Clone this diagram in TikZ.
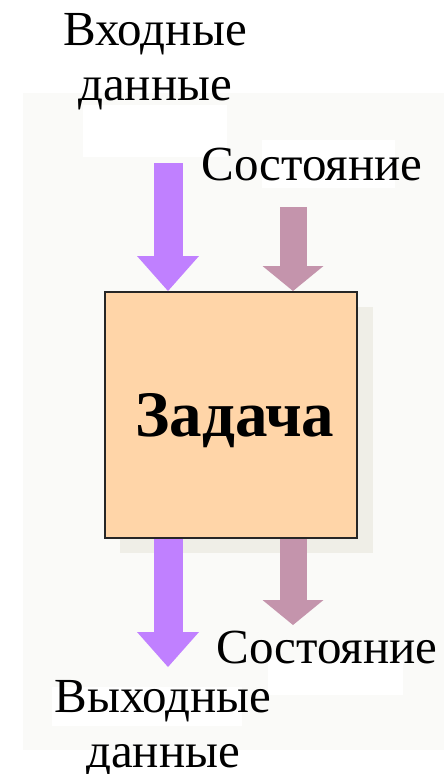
\documentclass[tikz,border=0pt]{standalone}
\usepackage{fontspec}
\setmainfont{Liberation Serif}
\usetikzlibrary{arrows.meta}
\definecolor{panel}{HTML}{FAFAF8}
\definecolor{shadowcol}{HTML}{EFEEE7}
\definecolor{taskfill}{HTML}{FFD5A8}
\definecolor{datacol}{HTML}{C080FF}
\definecolor{statecol}{HTML}{C494AC}

\begin{document}
\begin{tikzpicture}[x=0.75pt,y=-0.75pt,
    lbl/.style={font=\fontsize{36.75}{41.25}\selectfont,align=center,inner sep=0pt,anchor=base},
    data/.style={datacol,line width=21.75pt,-{Triangle[width=46.5pt,length=26.25pt,line width=0pt]}},
    state/.style={statecol,line width=20.25pt,-{Triangle[width=45.75pt,length=18.75pt,line width=0pt]}}]
                \useasboundingbox (0,0) rectangle (444,774);
                \fill[panel] (23,93) rectangle (444,750);
                \fill[white] (83,105) rectangle (227,157);
                \fill[white] (262,140) rectangle (395,188);
                \fill[white] (52,687) rectangle (242,726);
                \fill[white] (268,660) rectangle (403,695);
                \fill[shadowcol] (120,307) rectangle (373,553);

                \node[draw=black!85,line width=1.5pt,fill=taskfill,minimum width=189pt,minimum height=184.5pt,
                      text depth=0pt,font=\fontsize{48.75}{52}\selectfont\bfseries] (task) at (231,415) {\hspace*{6pt}Задача};

                \node[lbl] (in) at (155,100) {Входные\\данные};
                \node[lbl] (st in) at (312,180) {Состояние};
                \node[lbl] (st out) at (327,663) {Состояние};
                \node[lbl] (out) at (163,767) {Выходные\\данные};

                \coordinate (in top) at (168,163);
                \coordinate (st top) at (293,207);
                \coordinate (out end) at (168,667);
                \coordinate (st end) at (293,625);

                \draw[data] (in top) -- (in top |- task.north);
                \draw[state] (st top) -- (st top |- task.north);
                \draw[data] (task.south -| out end) -- (out end);
                \draw[state] (task.south -| st end) -- (st end);
            \end{tikzpicture}
\end{document}
